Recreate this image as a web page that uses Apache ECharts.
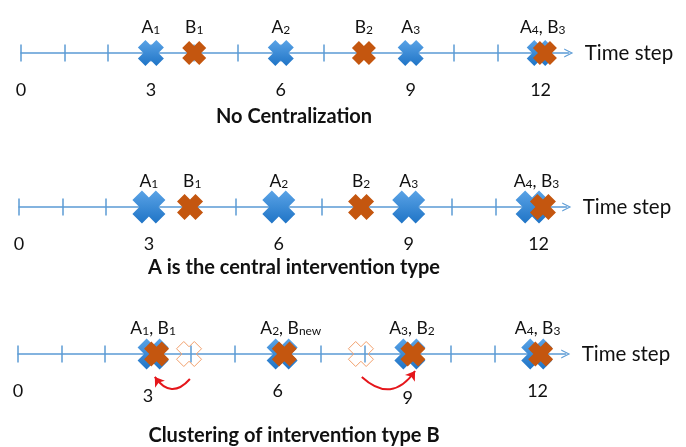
<!DOCTYPE html>
<html>
<head>
<meta charset="utf-8">
<script src="https://cdn.jsdelivr.net/npm/echarts@6/dist/echarts.min.js"></script>
<style>
    html, body { margin: 0; background: #fff; }
    #main { width: 686px; height: 447px; }
</style>
</head>
<body>
<div id="main"></div>
<script>
// tick labels shown under each time line
const tickLabels = [0, 3, 6, 9, 12]
const panelTitles = ['No Centralization', 'A is the central intervention type', 'Clustering of intervention type B']

// panel 1: no centralization
const aTimes1 = [3, 6, 9, 11.98]
const bTimes1 = [4, 7.92, 12.1]
const labels1 = ['A_1', 'B_1', 'A_2', 'B_2', 'A_3', 'A_4, B_3']
const labelAt1 = [3, 4, 6, 7.92, 9, 12.05]

// panel 2: A is central (bigger A marks)
const aTimes2 = [3, 6, 9, 11.85]
const bTimes2 = [3.95, 7.9, 12.1]
const labels2 = ['A_1', 'B_1', 'A_2', 'B_2', 'A_3', 'A_4, B_3']
const labelAt2 = [3, 4, 6, 7.9, 9, 11.95]

// panel 3: B clustered onto A
const aTimes3 = [3.12, 6.1, 9.05, 11.98]
const bTimes3 = [3.2, 6.15, 9.12, 12.07]
const ghostTimes3 = [3.95, 7.92] // where B used to be
const labels3 = ['A_1, B_1', 'A_2, B_new', 'A_3, B_2', 'A_4, B_3']
const labelAt3 = [3.12, 6.3, 9.1, 12.0]
const moveFrom3 = [[3.97, -2.94], [7.94, -2.7]]
const moveTo3 = [[3.16, -2.7], [9.17, -2.0]]
const moveBend3 = [0.63, -0.57]

const FONT = 'Lato'
const LINE_BLUE = '#5B9BD5'
const ORANGE = '#C4560F'
const TEXT = '#111'
const CROSS = 'path://M29,0L50,21L71,0L100,29L79,50L100,71L71,100L50,79L29,100L0,71L21,50L0,29Z'
const CHEVRON = 'path://M0,100L50,0L100,100L86,100L50,26L14,100Z'
const blueFill = {
    type: 'linear', x: 0, y: 0, x2: 0, y2: 1,
    colorStops: [{ offset: 0, color: '#5AA3E6' }, { offset: 1, color: '#1F74C6' }],
}

const panels = [
    { axisY: 53, left: 21, a: aTimes1, b: bTimes1, labels: labels1, labelAt: labelAt1, sizeA: 26, sizeB: 24, titleY: 116.5, drop: {} },
    { axisY: 207, left: 19, a: aTimes2, b: bTimes2, labels: labels2, labelAt: labelAt2, sizeA: 33, sizeB: 26, titleY: 268, drop: {} },
    { axisY: 354, left: 18, a: aTimes3, b: bTimes3, labels: labels3, labelAt: labelAt3, sizeA: 31, sizeB: 25, titleY: 436, drop: { 3: 5, 9: 7 } },
]

// 'A_1, B_new' -> rich text with small subscripts
function sub(text) {
    return text.split(/_(\w+)/).map((p, i) => {
        if (p === '') return ''
        return i % 2 ? '{s|' + p + '}' : '{m|' + p + '}'
    }).join('')
}

const AXIS_MAX = 12.65
const UNIT = 43.3

let grid = [], xAxis = [], yAxis = [], series = [], title = []

panels.forEach((p, i) => {
    grid.push({ left: p.left, top: p.axisY - 8.5, width: AXIS_MAX * UNIT, height: 17, outerBoundsMode: 'none' })
    yAxis.push({ gridIndex: i, type: 'value', min: -1, max: 1, show: false })
    xAxis.push({
        gridIndex: i,
        type: 'value',
        min: 0,
        max: AXIS_MAX,
        interval: 1,
        name: 'Time step',
        nameLocation: 'end',
        nameGap: 16,
        nameTextStyle: { fontSize: 20.5, color: TEXT, fontFamily: FONT },
        axisLine: {
            onZero: true,
            symbol: ['none', CHEVRON],
            symbolSize: [13, 9],
            lineStyle: { color: LINE_BLUE, width: 1.5 },
        },
        axisTick: { show: false },
        splitLine: { show: true, showMaxLine: false, lineStyle: { color: LINE_BLUE, width: 1.5 } },
        axisLabel: {
            margin: 20,
            fontSize: 18,
            color: TEXT,
            fontFamily: FONT,
            showMaxLabel: false,
            formatter(v) {
                if (!tickLabels.includes(v)) return ''
                if (p.drop[v]) return '{d' + p.drop[v] + '|' + v + '}'
                return String(v)
            },
            rich: {
                d5: { fontSize: 18, fontFamily: FONT, color: TEXT, padding: [5, 0, 0, 0] },
                d7: { fontSize: 18, fontFamily: FONT, color: TEXT, padding: [7, 0, 0, 0] },
            },
        },
    })
    title.push({
        text: panelTitles[i],
        left: 289,
        top: p.titleY - 15,
        textAlign: 'center',
        textStyle: { fontSize: 20, fontWeight: 'bold', color: TEXT, fontFamily: FONT },
    })

    if (i === 2) {
        series.push({
            type: 'scatter', xAxisIndex: i, yAxisIndex: i, clip: false,
            symbol: CROSS, symbolSize: 25,
            itemStyle: { color: 'rgba(255,255,255,0)', borderColor: '#F2A06C', borderWidth: 1, opacity: 1 },
            data: ghostTimes3.map(t => [t, 0]),
        })
    }
    series.push({
        type: 'scatter', xAxisIndex: i, yAxisIndex: i, clip: false,
        symbol: CROSS, symbolSize: p.sizeA,
        itemStyle: { color: blueFill, opacity: 1 },
        data: p.a.map(t => [t, 0]),
    })
    series.push({
        type: 'scatter', xAxisIndex: i, yAxisIndex: i, clip: false,
        symbol: CROSS, symbolSize: p.sizeB,
        itemStyle: { color: ORANGE, opacity: 1 },
        data: p.b.map(t => [t, 0]),
    })
    series.push({
        type: 'scatter', xAxisIndex: i, yAxisIndex: i, clip: false,
        symbolSize: 0,
        itemStyle: { opacity: 1 },
        data: p.labelAt.map(t => [t, 0]),
        label: {
            show: true,
            position: 'top',
            distance: 17,
            formatter: params => sub(p.labels[params.dataIndex]),
            rich: {
                m: { fontSize: 17.5, fontFamily: FONT, color: TEXT, verticalAlign: 'bottom' },
                s: { fontSize: 12, fontFamily: FONT, color: TEXT, verticalAlign: 'bottom' },
            },
        },
    })
})

// red arrows: B moved onto the nearest A
series.push({
    type: 'lines',
    coordinateSystem: 'cartesian2d',
    xAxisIndex: 2,
    yAxisIndex: 2,
    clip: false,
    symbol: ['none', 'arrow'],
    symbolSize: 9,
    lineStyle: { color: '#E5161B', width: 2, opacity: 1 },
    data: moveFrom3.map((f, k) => ({ coords: [f, moveTo3[k]], lineStyle: { curveness: moveBend3[k] } })),
})

const myChart = echarts.init(document.getElementById('main'))
myChart.setOption({
    backgroundColor: '#fff',
    animation: false,
    title,
    grid,
    xAxis,
    yAxis,
    series,
})
</script>
</body>
</html>
